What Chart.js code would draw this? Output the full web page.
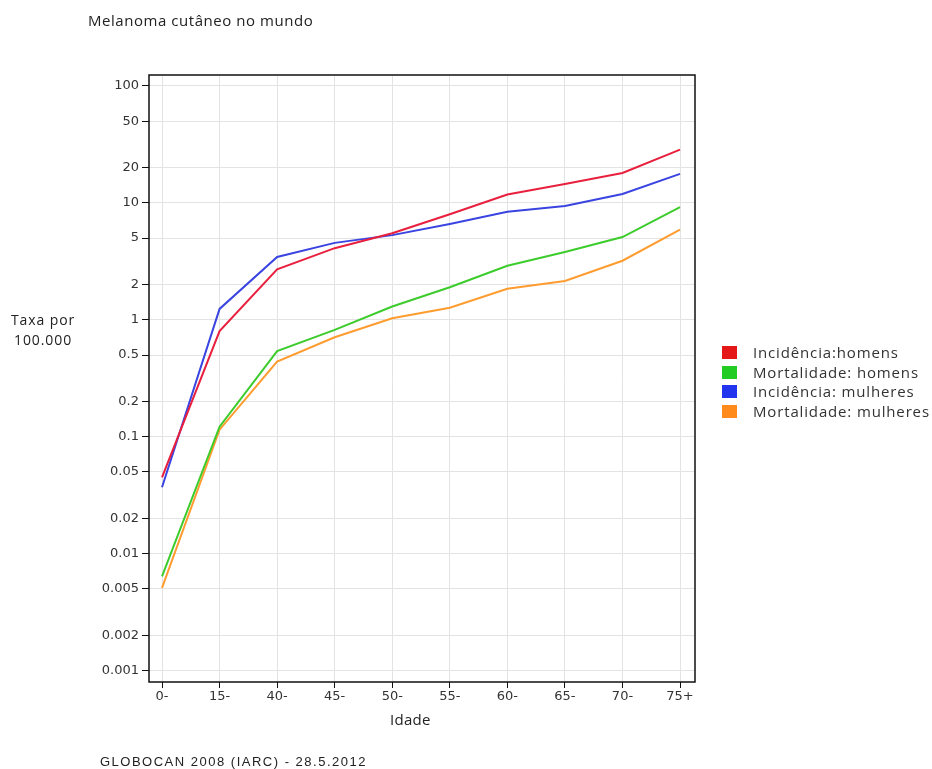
<!DOCTYPE html>
<html>
<head>
<meta charset="utf-8">
<script src="https://cdn.jsdelivr.net/npm/chart.js@4.4.1/dist/chart.umd.min.js"></script>
<style>
  body { margin: 0; background: #fff; }
  #wrap { position: relative; width: 932px; height: 769px; overflow: hidden; }
  #wrap canvas { position: absolute; left: 0; top: 0; }
  .txt { position: absolute; color: #222; font-family: "Open Sans", sans-serif; white-space: nowrap; }
  #legend { position: absolute; left: 722px; top: 343px; font-family: "Open Sans", sans-serif; font-size: 15px; letter-spacing: 0.85px; color: #333; }
  #legend div { height: 19.5px; line-height: 19.5px; white-space: nowrap; }
  #legend span { display: inline-block; width: 15px; height: 13px; margin-right: 16px; vertical-align: -1px; }
</style>
</head>
<body>
<div id="wrap">
  <canvas id="melanomaChart" width="932" height="769"></canvas>
  <div class="txt" style="left:88px; top:10px; font-size:15px; letter-spacing:0.55px;">Melanoma cutâneo no mundo</div>
  <div class="txt" style="left:11px; top:310px; font-size:14px; line-height:20px; letter-spacing:0.9px; text-align:center;">Taxa por<br>100.000</div>
  <div class="txt" style="left:390px; top:709px; font-size:15px; letter-spacing:0.3px;">Idade</div>
  <div class="txt" style="left:100px; top:754px; font-family:'Liberation Sans', sans-serif; font-size:13px; letter-spacing:1.5px;">GLOBOCAN 2008 (IARC) - 28.5.2012</div>
  <div id="legend"></div>
</div>
<script>
var ageGroups = ['0-', '15-', '40-', '45-', '50-', '55-', '60-', '65-', '70-', '75+'];
var incidenciaHomens = [0.045, 0.8, 2.7, 4.1, 5.5, 8.0, 11.8, 14.5, 18, 28.5];
var mortalidadeHomens = [0.0064, 0.122, 0.54, 0.82, 1.3, 1.9, 2.9, 3.8, 5.1, 9.2];
var incidenciaMulheres = [0.037, 1.24, 3.45, 4.55, 5.3, 6.6, 8.4, 9.4, 11.9, 17.7];
var mortalidadeMulheres = [0.0051, 0.115, 0.44, 0.71, 1.03, 1.27, 1.84, 2.15, 3.2, 5.9];
var yTicks = [100, 50, 20, 10, 5, 2, 1, 0.5, 0.2, 0.1, 0.05, 0.02, 0.01, 0.005, 0.002, 0.001];

var seriesNames = ['Incidência:homens', 'Mortalidade: homens', 'Incidência: mulheres', 'Mortalidade: mulheres'];
var lineColors = ['#e8203e', '#3ccc2c', '#3a44e0', '#ff9c30'];
var boxColors = ['#e41818', '#22cc22', '#2234ee', '#ff8c1a'];
var allSeries = [incidenciaHomens, mortalidadeHomens, incidenciaMulheres, mortalidadeMulheres];

function toPoints(arr) {
  return arr.map(function (v, i) { return { x: i, y: v }; });
}

// moldura preta em volta da área do gráfico
var frame = {
  id: 'frame',
  beforeDatasetsDraw: function (chart) {
    var a = chart.chartArea, ctx = chart.ctx;
    ctx.save();
    ctx.strokeStyle = '#111';
    ctx.lineWidth = 1.5;
    ctx.strokeRect(a.left, a.top, a.right - a.left, a.bottom - a.top);
    ctx.restore();
  }
};

var ctx = document.getElementById('melanomaChart');
var chart = new Chart(ctx, {
  type: 'line',
  data: {
    datasets: allSeries.map(function (s, i) {
      return {
        label: seriesNames[i],
        data: toPoints(s),
        borderColor: lineColors[i],
        backgroundColor: lineColors[i],
        borderWidth: 2,
        pointRadius: 0,
        tension: 0,
        fill: false
      };
    })
  },
  options: {
    responsive: false,
    animation: false,
    layout: { padding: { left: 0, right: 237, top: 75, bottom: 0 } },
    plugins: { legend: { display: false }, tooltip: { enabled: false } },
    scales: {
      x: {
        type: 'linear',
        min: -0.226,
        max: 9.26,
        afterBuildTicks: function (scale) {
          scale.ticks = ageGroups.map(function (g, i) { return { value: i }; });
        },
        afterFit: function (scale) { scale.height = 87; },
        ticks: {
          callback: function (v) { return ageGroups[v]; },
          color: '#333',
          font: { family: 'DejaVu Sans', size: 13 },
          padding: 1,
          maxRotation: 0
        },
        grid: { color: '#e3e3e3', tickColor: '#111', tickLength: 6 },
        border: { display: false }
      },
      y: {
        type: 'logarithmic',
        min: 0.0008,
        max: 124,
        afterBuildTicks: function (scale) {
          scale.ticks = yTicks.map(function (v) { return { value: v }; });
        },
        afterFit: function (scale) { scale.width = 149; },
        ticks: {
          callback: function (v) { return String(v); },
          color: '#333',
          font: { family: 'DejaVu Sans', size: 13 },
          padding: 3,
          autoSkip: false
        },
        grid: { color: '#e3e3e3', tickColor: '#111', tickLength: 7 },
        border: { display: false }
      }
    }
  },
  plugins: [frame]
});

var legend = document.getElementById('legend');
seriesNames.forEach(function (name, i) {
  var row = document.createElement('div');
  row.innerHTML = '<span style="background:' + boxColors[i] + '"></span>' + name;
  legend.appendChild(row);
});
</script>
</body>
</html>
